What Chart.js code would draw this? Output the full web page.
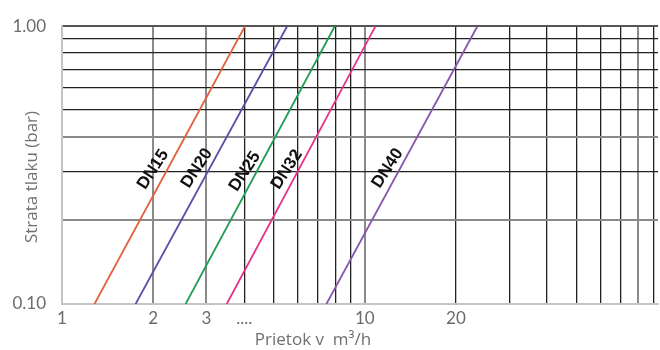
<!DOCTYPE html>
<html>
<head>
<meta charset="utf-8">
<script src="https://cdn.jsdelivr.net/npm/chart.js@4"></script>
<style>
  html, body { margin: 0; padding: 0; background: #fff; }
  #wrap { width: 660px; height: 350px; }
</style>
</head>
<body>
<div id="wrap"><canvas id="chart"></canvas></div>
<script>
'use strict';

// series: flow (m3/h) at pressure drop 0.10 bar and 1.00 bar
var seriesNames = ['DN15', 'DN20', 'DN25', 'DN32', 'DN40'];
var seriesColors = ['#e2623f', '#5a4fa8', '#1f9e52', '#e8308a', '#8a56ac'];
var pressureDrop = [0.1, 1.0];
var flowDN15 = [1.28, 4.02];
var flowDN20 = [1.75, 5.54];
var flowDN25 = [2.56, 7.96];
var flowDN32 = [3.50, 10.85];
var flowDN40 = [7.47, 23.55];
var seriesFlows = [flowDN15, flowDN20, flowDN25, flowDN32, flowDN40];

// where the DN labels sit (data coordinates)
var labelFlow = [2.0, 2.79, 4.02, 5.53, 11.9];
var labelDrop = [0.305, 0.308, 0.30, 0.305, 0.308];

var xGridValues = [1, 2, 3, 4, 5, 6, 7, 8, 9, 10, 20, 30, 40, 50, 60, 70, 80, 90];
var xTickLabels = { 1: '1', 2: '2', 3: '3', 4: '....', 10: '10', 20: '20' };
var xHeavy = [2, 3, 10, 80];
var yGridValues = [0.1, 0.2, 0.3, 0.4, 0.5, 0.6, 0.7, 0.8, 0.9, 1.0];
var yHeavy = [0.2, 0.4];

var xTitle = 'Prietok v  m³/h';
var yTitle = 'Strata tlaku (bar)';

var near = function near(a, b) { return Math.abs(a - b) < 1e-6; };
var inList = function inList(list, v) { return list.some(function(x) { return near(x, v); }); };

var datasets = seriesNames.map(function(name, i) {
  return {
    label: name,
    data: seriesFlows[i].map(function(q, j) { return { x: q, y: pressureDrop[j] }; }),
    borderColor: seriesColors[i],
    borderWidth: 1.8,
    showLine: true,
    pointRadius: 0,
    fill: false
  };
});

var labelPlugin = {
  id: 'labels',
  afterDatasetsDraw: function(chart) {
    var ctx = chart.ctx,
      xs = chart.scales.x,
      ys = chart.scales.y;
    ctx.save();
    ctx.fillStyle = '#111';
    ctx.font = 'bold 17px "Liberation Sans", Arial, sans-serif';
    ctx.textAlign = 'center';
    ctx.textBaseline = 'middle';
    seriesNames.forEach(function(name, i) {
      ctx.save();
      ctx.translate(xs.getPixelForValue(labelFlow[i]), ys.getPixelForValue(labelDrop[i]));
      ctx.rotate(-57 * Math.PI / 180);
      ctx.fillText(name, 0, 0);
      ctx.restore();
    });
    ctx.restore();

    // axis titles
    ctx.save();
    ctx.fillStyle = '#707070';
    ctx.font = '17px "Open Sans", sans-serif';
    ctx.textAlign = 'center';
    ctx.textBaseline = 'middle';
    ctx.fillText(xTitle, 313, 340);
    ctx.translate(32, 177);
    ctx.rotate(-Math.PI / 2);
    ctx.fillText(yTitle, 0, 0);
    ctx.restore();
  }
};

new Chart(document.getElementById('chart'), {
  type: 'scatter',
  data: { datasets: datasets },
  options: {
    responsive: true,
    maintainAspectRatio: false,
    animation: false,
    events: [],
    layout: { padding: { top: 23, right: 2, left: 0, bottom: 0 } },
    plugins: {
      legend: { display: false },
      tooltip: { enabled: false }
    },
    scales: {
      x: {
        type: 'logarithmic',
        min: 1,
        max: 93,
        afterBuildTicks: function(scale) {
          scale.ticks = xGridValues.map(function(v) { return { value: v }; });
        },
        afterFit: function(scale) { scale.height = 46; },
        border: { display: true, color: '#c4c4c4', width: 2 },
        grid: {
          drawTicks: false,
          color: function(c) {
            if (!c.tick) return '#222';
            if (near(c.tick.value, 1)) return '#c4c4c4';
            return inList(xHeavy, c.tick.value) ? '#8a8a8a' : '#222';
          },
          lineWidth: function(c) {
            if (!c.tick) return 1;
            return inList(xHeavy, c.tick.value) || near(c.tick.value, 1) ? 2 : 1.3;
          }
        },
        ticks: {
          autoSkip: false,
          maxRotation: 0,
          padding: 4,
          color: '#6b6b6b',
          font: { family: 'Lato, sans-serif', size: 17 },
          callback: function(v) {
            var k = Math.round(v);
            return near(k, v) && xTickLabels[k] ? xTickLabels[k] : '';
          }
        }
      },
      y: {
        type: 'logarithmic',
        min: 0.1,
        max: 1,
        afterBuildTicks: function(scale) {
          scale.ticks = yGridValues.map(function(v) { return { value: v }; });
        },
        afterFit: function(scale) { scale.width = 62; },
        border: { display: true, color: '#c4c4c4', width: 2 },
        grid: {
          drawTicks: false,
          color: function(c) {
            if (!c.tick) return '#222';
            if (near(c.tick.value, 0.1)) return '#d0d0d0';
            if (near(c.tick.value, 1)) return '#555';
            return inList(yHeavy, c.tick.value) ? '#8a8a8a' : '#222';
          },
          lineWidth: function(c) {
            if (!c.tick) return 1;
            return inList(yHeavy, c.tick.value) || near(c.tick.value, 0.1) || near(c.tick.value, 1) ? 2 : 1.3;
          }
        },
        ticks: {
          autoSkip: false,
          padding: 16,
          color: '#6b6b6b',
          font: { family: 'Lato, sans-serif', size: 17 },
          callback: function(v) {
            if (near(v, 1)) return '1.00';
            if (near(v, 0.1)) return '0.10';
            return '';
          }
        }
      }
    }
  },
  plugins: [labelPlugin]
});
</script>
</body>
</html>
